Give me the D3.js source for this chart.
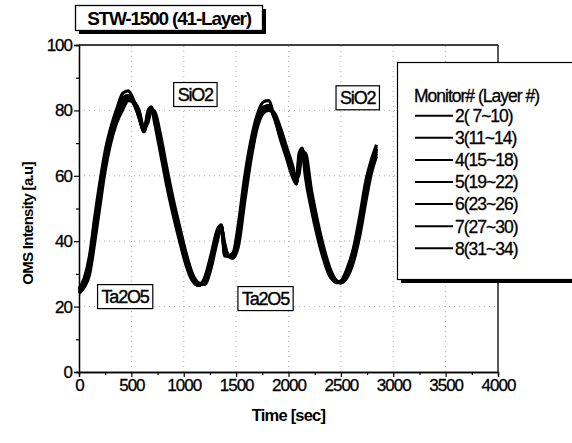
<!DOCTYPE html>
<html>
<head>
<meta charset="utf-8">
<script src="https://cdn.jsdelivr.net/npm/d3@7"></script>
<style>
  body { margin: 0; background: #fff; }
  svg text { font-family: "Liberation Sans", Arial, sans-serif; fill: #000; }
</style>
</head>
<body>
<script>
// time grid shared by all monitor traces (sec)
const time = [0,50,100,150,200,250,300,360,420,470,520,570,620,660,690,720,780,840,900,960,
  1020,1080,1140,1200,1260,1320,1360,1390,1420,1470,1520,1580,1640,1700,1760,1810,1860,1920,1980,2040,
  2075,2100,2130,2160,2220,2280,2340,2400,2460,2500,2560,2620,2680,2740,2790,2840];

// OMS intensity, one array per monitor
const mon2 = [25.5,28.7,35.5,47.3,58.2,67.6,74.3,80.4,85.3,86,83.3,78,74,80,81,76.5,66.6,56.6,47.9,40,
  32.9,28,26.5,28.9,35.8,43.5,45,35.5,35.5,36.4,44.9,59.3,70.6,78.5,82.6,83,78.5,71.5,65.5,59.5,
  57.5,66.7,68.5,60,49.5,40.9,33.9,29,27.5,27.9,31.7,37.8,47.6,58.7,64.8,69.5];
const mon3 = [25.4,28.1,34.3,45.8,56.7,66.4,73,78.7,83.9,84.5,82.1,78.3,73.5,79.3,80.5,77.5,67.7,57.7,48.9,41,
  33.6,28.5,26.5,28.5,35,42.8,44.5,36,35.3,36,43.5,57.8,69.4,77.3,80.8,81.5,78,72.2,66.2,60.2,
  57.5,65.4,68,61.8,50.6,41.9,34.6,29.4,27.3,27.7,31.1,37,46.4,57.4,64,68.8];
const mon4 = [24.8,27.1,32.2,42.9,54,64.2,71.4,77.6,82.2,83.8,82.8,79.5,73.8,78,80.3,79.2,69.8,59.8,50.7,42.7,
  35,29.3,26.6,27.7,33.4,41.5,44.3,37.8,35.6,35.2,41,54.9,67.2,76,80.3,80.8,78.9,73.5,67.5,61.5,
  58.3,63.1,67.8,65.4,52.9,43.7,36,30.4,27.6,27.4,30.1,35.4,44.2,55.1,62.4,67.5];
const mon5 = [24.4,26.5,31,41.4,52.5,63,70.6,76.9,81.3,83.3,82.8,80,74.5,77.3,80,79.5,70.9,60.9,51.7,43.6,
  35.8,29.8,26.8,27.3,32.6,40.8,44,38.8,35.8,34.8,39.7,53.4,66,75.3,80,80.5,79.3,74.2,68.2,62.2,
  58.6,61.8,67.3,66.5,54,44.7,36.8,30.8,27.7,27.2,29.5,34.6,43,53.8,61.6,66.8];
const mon6 = [25,27.5,33,44,55,65,72,78,82.5,84,82.5,79,73.5,78.5,80.5,78.5,69,59,50,42,
  34.5,29,26.5,28,34,42,44.5,37,35.5,35.5,42,56,68,76.5,80.5,81,78.5,73,67,61,
  58,64,68,64,52,43,35.5,30,27.5,27.5,30.5,36,45,56,63,68];
const mon7 = [25.2,27.7,33.5,44.7,55.6,65.5,72.4,78.3,83.2,84.5,82.4,78.7,73.5,78.8,81,78.1,68.5,58.5,49.6,41.6,
  34.2,28.8,26.5,28.2,34.4,42.3,44.8,36.6,35.5,35.7,42.6,56.7,68.5,76.8,81,81.5,78.3,72.7,66.7,60.7,
  57.8,64.5,68.2,63.2,51.5,42.6,35.2,29.8,27.5,27.6,30.7,36.4,45.5,56.5,63.4,68.3];
const mon8 = [24,25.9,29.7,39.6,50.8,61.6,69.6,76.2,80.4,83,82.5,80.3,74.5,76.5,80,79.8,72.2,62.2,52.8,44.6,
  36.7,30.3,27.3,26.8,31.6,40,44,39.5,36,35,38.2,51.6,64.6,74.5,79.2,80,79.4,75,69,63,
  59,60.4,66.5,67,55.4,45.8,37.7,31.4,27.9,27.3,28.9,33.6,41.6,52.4,60.6,66];

const seriesNames = ["2( 7~10)","3(11~14)","4(15~18)","5(19~22)","6(23~26)","7(27~30)","8(31~34)"];
const seriesValues = [mon2, mon3, mon4, mon5, mon6, mon7, mon8];

const xTicks = [0,500,1000,1500,2000,2500,3000,3500,4000];
const yTicks = [0,20,40,60,80,100];

// layer labels on the plot: [text, time, intensity]
const layerLabels = [["SiO2",1110,85],["SiO2",2660,84],["Ta2O5",440,23.2],["Ta2O5",1780,22.6]];

const W = 572, H = 443;
const svg = d3.select('body').append('svg')
  .attr('width', W).attr('height', H);

const x = d3.scaleLinear().domain([0,4000]).range([79,498]);
const y = d3.scaleLinear().domain([0,100]).range([372,45]);

// dotted grid
const grid = svg.append('g').attr('stroke','#999').attr('stroke-width',0.8).attr('stroke-dasharray','1,4');
grid.selectAll('.gx').data(xTicks.slice(1,-1)).join('line')
  .attr('x1',d=>x(d)).attr('x2',d=>x(d)).attr('y1',y(0)).attr('y2',y(100));
grid.selectAll('.gy').data(yTicks.slice(1,-1)).join('line')
  .attr('x1',x(0)).attr('x2',x(4000)).attr('y1',d=>y(d)).attr('y2',d=>y(d));

// axes
svg.append('g').attr('transform',`translate(0,${y(0)})`)
  .call(d3.axisBottom(x).tickValues(xTicks).tickSize(5).tickPadding(2).tickFormat(d3.format('d')));
svg.append('g').attr('transform',`translate(0,${y(0)})`)
  .call(d3.axisBottom(x).tickValues(d3.range(250,4000,500)).tickSize(3).tickFormat(''));
svg.append('g').attr('transform',`translate(${x(0)},0)`)
  .call(d3.axisLeft(y).tickValues(yTicks).tickSize(5).tickPadding(2));
svg.append('g').attr('transform',`translate(${x(0)},0)`)
  .call(d3.axisLeft(y).tickValues(d3.range(10,100,20)).tickSize(3).tickFormat(''));
svg.selectAll('.domain').attr('stroke','#000').attr('stroke-width',1.3);
svg.selectAll('.tick line').attr('stroke','#000').attr('stroke-width',1.2);
svg.selectAll('.tick text').style('font-size','17px').attr('letter-spacing','-1px')
  .attr('stroke','#000').attr('stroke-width',0.3);

// top and right frame
svg.append('line').attr('x1',x(0)).attr('x2',x(4000)).attr('y1',y(100)).attr('y2',y(100)).attr('stroke','#000').attr('stroke-width',1.3);
svg.append('line').attr('x1',x(4000)).attr('x2',x(4000)).attr('y1',y(100)).attr('y2',y(0)).attr('stroke','#000').attr('stroke-width',1.3);

// axis titles
svg.append('text').attr('x',(x(0)+x(4000))/2).attr('y',421).attr('text-anchor','middle')
  .style('font-size','16.5px').style('font-weight','bold').attr('letter-spacing','-0.8px').text('Time [sec]');
svg.append('text').attr('transform',`translate(33,${(y(0)+y(100))/2+15}) rotate(-90)`).attr('text-anchor','middle')
  .style('font-size','15px').style('font-weight','bold').attr('letter-spacing','-0.7px').text('OMS Intensity [a.u]');

// traces
const line = d3.line().x((d,i)=>x(time[i])).y(d=>y(d)).curve(d3.curveMonotoneX);
svg.append('g').selectAll('path').data(seriesValues).join('path')
  .attr('d', line).attr('fill','none').attr('stroke','#000').attr('stroke-width',3.2)
  .attr('stroke-linejoin','round');

// layer label boxes
const lab = svg.append('g').selectAll('g').data(layerLabels).join('g')
  .attr('transform',d=>`translate(${x(d[1])},${y(d[2])})`);
lab.append('text').attr('text-anchor','middle').attr('dy','0.36em')
  .style('font-size','18px').attr('letter-spacing','-1.2px')
  .attr('stroke','#000').attr('stroke-width',0.4).text(d=>d[0]);
lab.each(function(){
  const g = d3.select(this), b = g.select('text').node().getBBox();
  g.insert('rect','text').attr('x',b.x-4).attr('y',b.y-2).attr('width',b.width+7).attr('height',b.height+4)
    .attr('fill','#fff').attr('stroke','#000').attr('stroke-width',1.2);
});

// title box with shadow
svg.append('rect').attr('x',79).attr('y',9).attr('width',187).attr('height',25).attr('fill','#000');
svg.append('rect').attr('x',75.5).attr('y',5.5).attr('width',187).attr('height',25).attr('fill','#fff')
  .attr('stroke','#000').attr('stroke-width',1.3);
svg.append('text').attr('x',169).attr('y',25).attr('text-anchor','middle')
  .style('font-size','19px').style('font-weight','bold').attr('letter-spacing','-1.2px').text('STW-1500 (41-Layer)');

// legend
const lg = svg.append('g');
lg.append('rect').attr('x',401).attr('y',66).attr('width',180).attr('height',217).attr('fill','#000');
lg.append('rect').attr('x',397.5).attr('y',62.5).attr('width',180).attr('height',217).attr('fill','#fff')
  .attr('stroke','#000').attr('stroke-width',1.2);
lg.append('text').attr('x',414).attr('y',102).style('font-size','17.5px').attr('letter-spacing','-1px')
  .attr('stroke','#000').attr('stroke-width',0.3).text('Monitor# (Layer #)');
const row = lg.selectAll('.row').data(seriesNames).join('g')
  .attr('transform',(d,i)=>`translate(0,${115.7+i*22.1})`);
row.append('line').attr('x1',415).attr('x2',453).attr('stroke','#000').attr('stroke-width',2);
row.append('text').attr('x',455).attr('dy','0.36em').style('font-size','17.5px').attr('letter-spacing','-1px')
  .attr('stroke','#000').attr('stroke-width',0.3).text(d=>d);
</script>
</body>
</html>
